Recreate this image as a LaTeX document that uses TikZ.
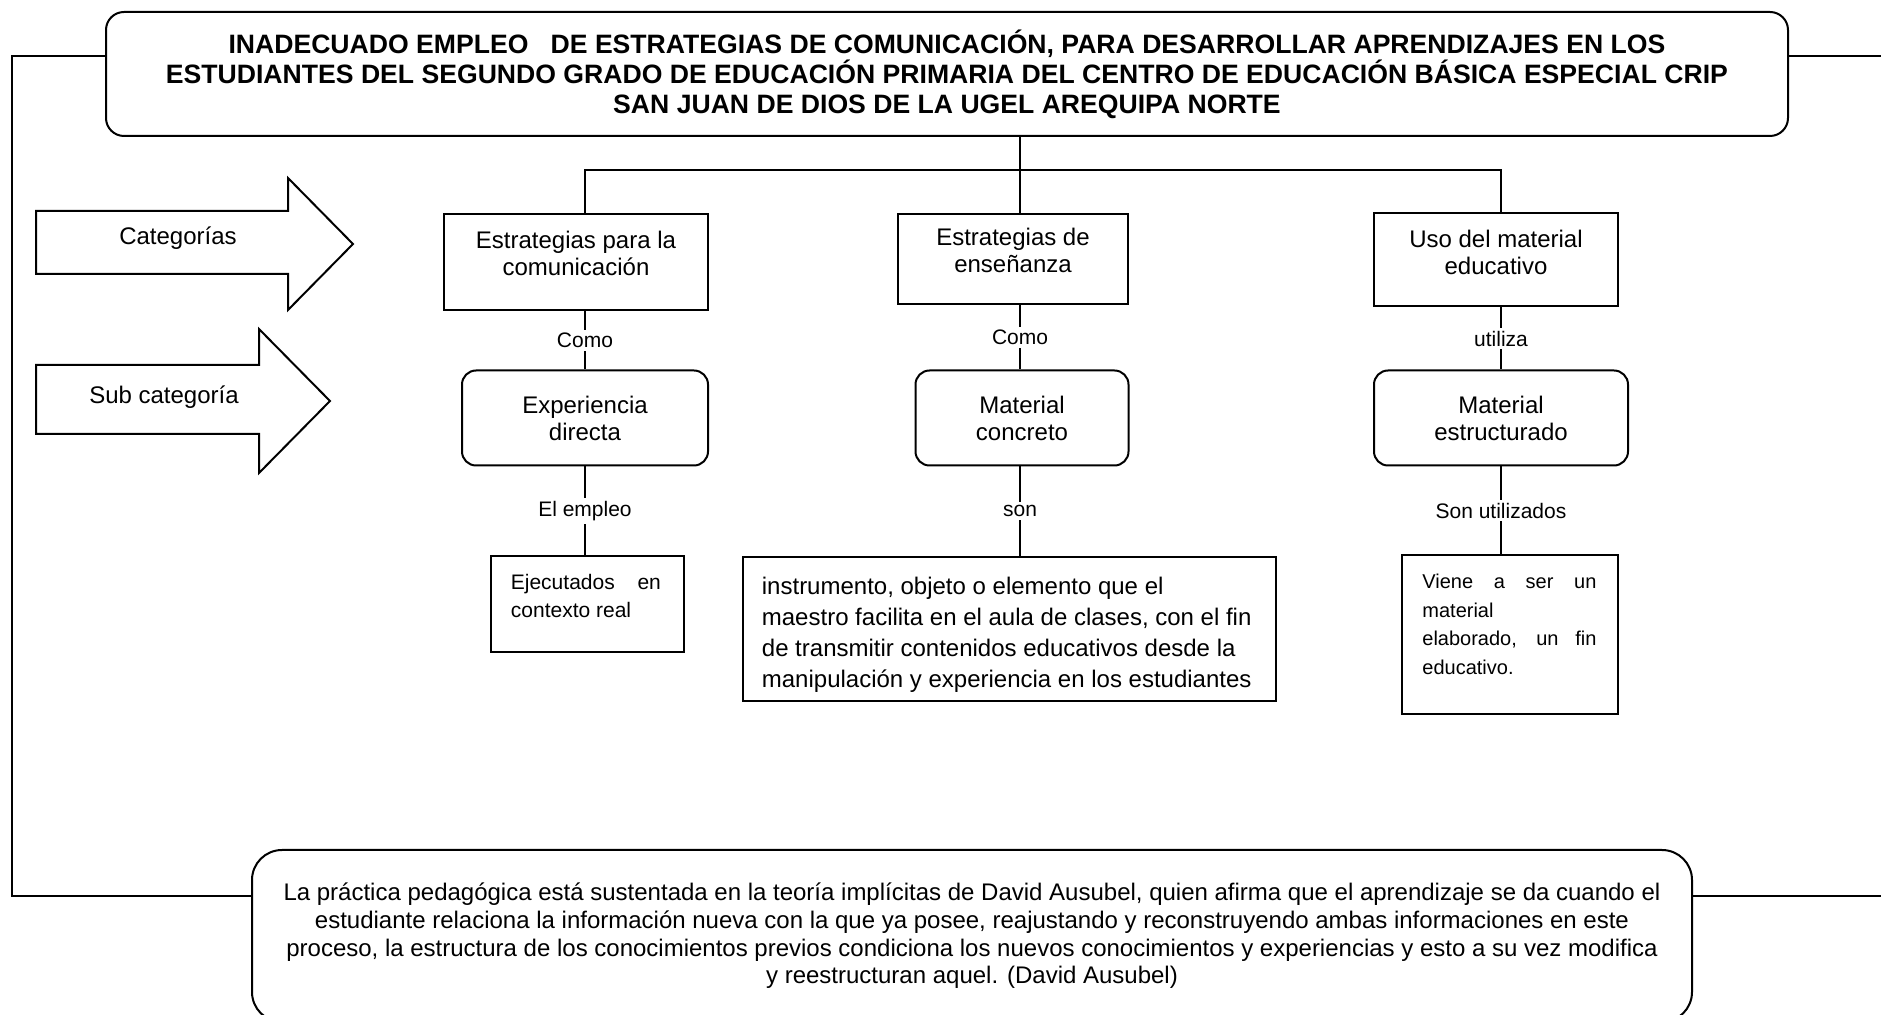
\documentclass[tikz,border=0pt]{standalone}
\usepackage{fontspec}
\setmainfont{Liberation Sans}
\usetikzlibrary{positioning}
\hyphenpenalty=10000
\exhyphenpenalty=10000

\begin{document}
\begin{tikzpicture}[x=0.5pt, y=-0.5pt,
            box/.style={draw, line width=1pt, rectangle, inner sep=0pt},
            catbox/.style={box},
            subbox/.style={box, rounded corners=7pt, align=center, font=\fontsize{12}{13.5}\selectfont},
            leafbox/.style={box},
            txt/.style={inner sep=0pt, align=center, font=\fontsize{12}{13.5}\selectfont},
            lbl/.style={fill=white, inner sep=1.5pt, font=\fontsize{10.5}{12}\selectfont},
            thinline/.style={line width=0.6pt},
            outline/.style={line width=1pt}]

            \useasboundingbox (0,0) rectangle (1881,1015);

            % problema
            \node[box, rounded corners=9pt, minimum width=841pt, minimum height=62pt, align=center,
                  font=\bfseries\fontsize{13.3}{15}\selectfont] (title) at (947,74)
                {INADECUADO EMPLEO \ \ DE ESTRATEGIAS DE COMUNICACIÓN, PARA DESARROLLAR APRENDIZAJES EN LOS\\
                 ESTUDIANTES DEL SEGUNDO GRADO DE EDUCACIÓN PRIMARIA DEL CENTRO DE EDUCACIÓN BÁSICA ESPECIAL CRIP\\
                 SAN JUAN DE DIOS DE LA UGEL AREQUIPA NORTE};

            % flechas de la izquierda
            \draw[outline] (36,211) -- (288,211) -- (288,178) -- (353,244) -- (288,310) -- (288,274) -- (36,274) -- cycle;
            \node[txt] (catlabel) at (178,238) {Categorías};
            \draw[outline] (36,365) -- (259,365) -- (259,329) -- (330,401) -- (259,473) -- (259,434) -- (36,434) -- cycle;
            \node[txt] (sublabel) at (164,397) {Sub categoría};

            % categorias
            \node[catbox, minimum width=132pt, minimum height=48pt] (cat1) at (576,262) {};
            \node[txt, anchor=north, yshift=-9pt] (cat1t) at (cat1.north) {Estrategias para la\\comunicación};
            \node[catbox, minimum width=115pt, minimum height=45pt] (cat2) at (1013,259) {};
            \node[txt, anchor=north, yshift=-7.5pt] (cat2t) at (cat2.north) {Estrategias de\\enseñanza};
            \node[catbox, minimum width=122pt, minimum height=46.5pt] (cat3) at (1496,260) {};
            \node[txt, anchor=north, yshift=-8.5pt] (cat3t) at (cat3.north) {Uso del material\\educativo};

            % sub categorias
            \node[subbox, minimum width=123pt, minimum height=47.5pt] (sub1) at (585,418) {Experiencia\\directa};
            \node[subbox, minimum width=106.5pt, minimum height=47.5pt] (sub2) at (1022,418) {Material\\concreto};
            \node[subbox, minimum width=127pt, minimum height=47.5pt] (sub3) at (1501,418) {Material\\estructurado};

            % descripciones
            \node[leafbox, minimum width=96.5pt, minimum height=48pt] (leaf1) at (587,604) {};
            \node[txt, anchor=north west, text width=75pt, align=justify, font=\fontsize{10.5}{14}\selectfont]
                (leaf1t) at ([xshift=10.5pt, yshift=-9.5pt]leaf1.north west) {Ejecutados en\linebreak contexto real};
            \node[leafbox, minimum width=266.5pt, minimum height=72pt] (leaf2) at (1009,629) {};
            \node[txt, anchor=north west, align=left, font=\fontsize{12}{15.5}\selectfont]
                (leaf2t) at ([xshift=10pt, yshift=-10.5pt]leaf2.north west)
                {instrumento, objeto o elemento que el\\
                 maestro facilita en el aula de clases, con el fin\\
                 de transmitir contenidos educativos desde la\\
                 manipulación y experiencia en los estudiantes};
            \node[leafbox, minimum width=108pt, minimum height=79.5pt] (leaf3) at (1510,635) {};
            \node[txt, anchor=north west, text width=87pt, align=justify, font=\fontsize{10}{14.4}\selectfont]
                (leaf3t) at ([xshift=10.5pt, yshift=-9.5pt]leaf3.north west)
                {Viene a ser un\linebreak material\\ elaborado, un fin\linebreak educativo.};

            % teoria
            \node[box, rounded corners=15pt, minimum width=720pt, minimum height=86pt, align=center,
                  font=\fontsize{12}{13.8}\selectfont] (theory) at (972,936)
                {La práctica pedagógica está sustentada en la teoría implícitas de David Ausubel, quien afirma que el aprendizaje se da cuando el\\
                 estudiante relaciona la información nueva con la que ya posee, reajustando y reconstruyendo ambas informaciones en este\\
                 proceso, la estructura de los conocimientos previos condiciona los nuevos conocimientos y experiencias y esto a su vez modifica\\
                 y reestructuran aquel. (David Ausubel)};

            % arbol
            \coordinate (split) at (1020,170);
            \draw[thinline] (title.south -| split) -- (split);
            \draw[thinline] (sub1.north |- cat1.north) |- (split) -| (sub3.north |- cat3.north);
            \draw[thinline] (split) -- (split |- cat2.north);

            \draw[thinline] (sub1.north |- cat1.south) -- node[lbl] {Como} (sub1.north);
            \draw[thinline] (split |- cat2.south) -- node[lbl] {Como} (split |- sub2.north);
            \draw[thinline] (sub3.north |- cat3.south) -- node[lbl] {utiliza} (sub3.north);

            \draw[thinline] (sub1.south) -- node[lbl] {El empleo} (sub1.south |- leaf1.north);
            \draw[thinline] (split |- sub2.south) -- node[lbl] {son} (split |- leaf2.north);
            \draw[thinline] (sub3.south) -- node[lbl] {Son utilizados} (sub3.south |- leaf3.north);

            % lineas exteriores
            \coordinate (tl) at (12,56);
            \coordinate (bl) at (12,896);
            \coordinate (tr) at (1881,56);
            \coordinate (br) at (1881,896);
            \draw[outline] (title.west |- tl) -- (tl) -- (bl) -- (theory.west |- bl);
            \draw[outline] (title.east |- tr) -- (tr);
            \draw[outline] (theory.east |- br) -- (br);
        \end{tikzpicture}
\end{document}
